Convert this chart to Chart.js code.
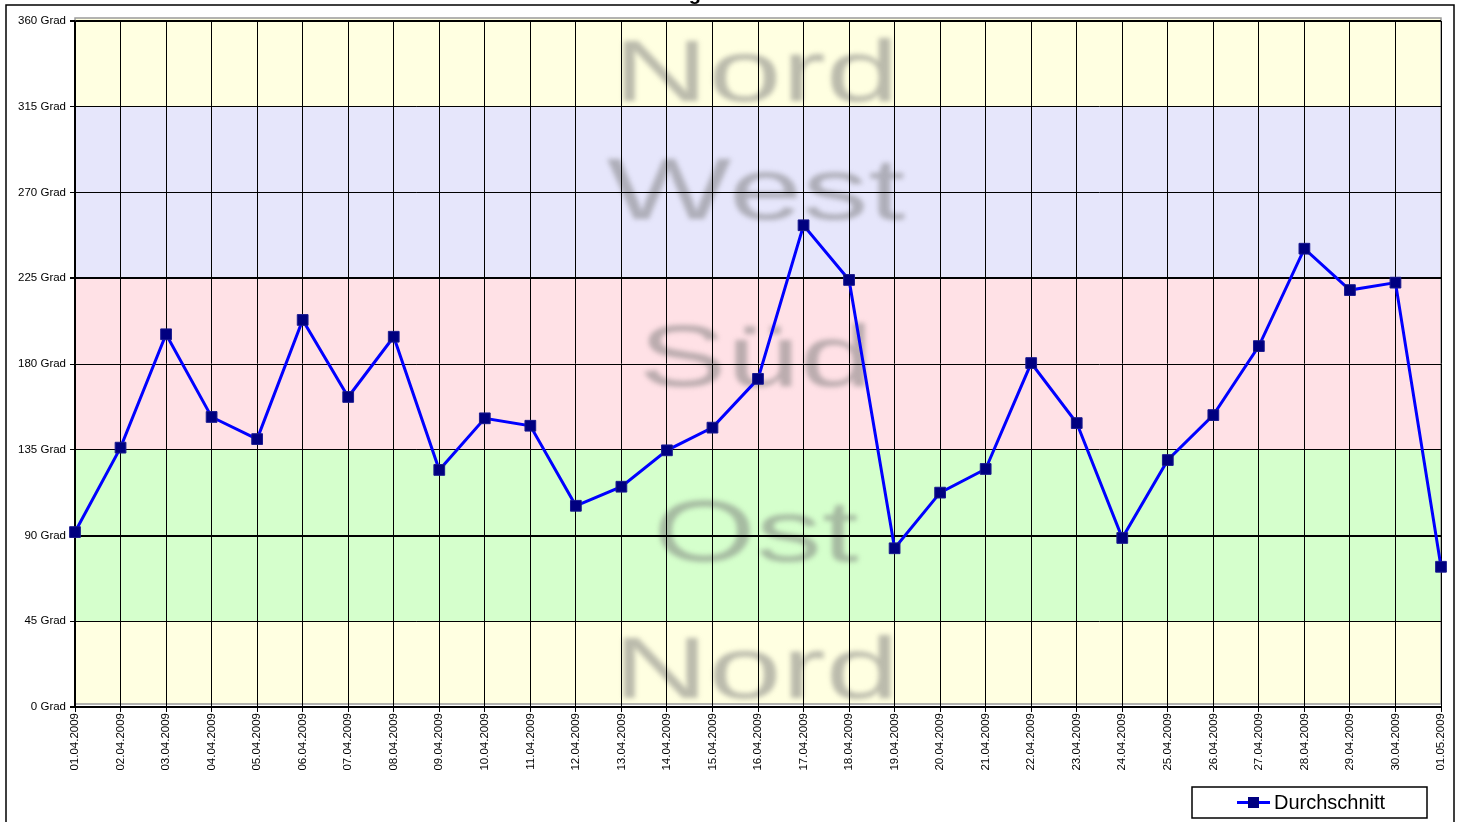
<!DOCTYPE html>
<html>
<head>
<meta charset="utf-8">
<script src="https://cdn.jsdelivr.net/npm/chart.js@4.4.1/dist/chart.umd.min.js"></script>
<style>
  html, body { margin: 0; padding: 0; background: #ffffff; }
  #wrap { width: 1462px; height: 822px; }
</style>
</head>
<body>
<div id="wrap"><canvas id="c" width="1462" height="822"></canvas></div>
<script>
const categories = ["01.04.2009","02.04.2009","03.04.2009","04.04.2009","05.04.2009","06.04.2009","07.04.2009","08.04.2009","09.04.2009","10.04.2009","11.04.2009","12.04.2009","13.04.2009","14.04.2009","15.04.2009","16.04.2009","17.04.2009","18.04.2009","19.04.2009","20.04.2009","21.04.2009","22.04.2009","23.04.2009","24.04.2009","25.04.2009","26.04.2009","27.04.2009","28.04.2009","29.04.2009","30.04.2009","01.05.2009"];
const durchschnitt = [91.8,136.1,195.6,152.2,140.6,203.1,162.7,194.3,124.4,151.5,147.6,105.6,115.6,134.7,146.6,172.2,252.8,224.1,83.3,112.5,124.9,180.5,149.0,88.7,129.6,153.2,189.4,240.5,218.8,222.7,73.6];
const seriesName = "Durchschnitt";
const titleText = "Windrichtung";
const yTicks = [0,45,90,135,180,225,270,315,360];
const tickSuffix = " Grad";
const bandEdges = [0,45,135,225,315,360];
const bandColors = ["#FFFFE1","#D5FFCC","#FFE1E6","#E6E6FB","#FFFFE1"];
const bandNames = ["Nord","Ost","Süd","West","Nord"];

const FONT = "'Liberation Sans', Arial, sans-serif";

const bgPlugin = {
  id: 'bg',
  beforeDraw(chart) {
    const ctx = chart.ctx;
    const a = chart.chartArea;
    const y = chart.scales.y;
    ctx.save();
    ctx.fillStyle = '#ffffff';
    ctx.fillRect(0, 0, chart.width, chart.height);
    // outer frame
    ctx.strokeStyle = '#000000';
    ctx.lineWidth = 1.5;
    ctx.strokeRect(6, 5, 1448, 840);
    // title (cut off at the top)
    ctx.fillStyle = '#000000';
    ctx.font = 'bold 20px ' + FONT;
    ctx.textAlign = 'right';
    ctx.textBaseline = 'alphabetic';
    ctx.fillText(titleText, 701, 0);
    // bands
    const imgTop = a.top - 3, imgBottom = a.bottom - 3;
    for (let i = 0; i < bandColors.length; i++) {
      let y0 = y.getPixelForValue(bandEdges[i]);
      let y1 = y.getPixelForValue(bandEdges[i + 1]);
      if (i === 0) y0 = imgBottom;
      if (i === bandColors.length - 1) y1 = imgTop;
      ctx.fillStyle = bandColors[i];
      ctx.fillRect(a.left, y1, a.right - a.left, y0 - y1);
    }
    ctx.strokeStyle = '#9a9a9a';
    ctx.lineWidth = 1.5;
    ctx.strokeRect(a.left, imgTop, a.right - a.left, imgBottom - imgTop);
    // watermark names
    const baseVals = [4.7, 76.6, 168.5, 256, 318];
    const cx = (a.left + a.right) / 2 - 2;
    ctx.font = '88px ' + FONT;
    ctx.textAlign = 'center';
    ctx.textBaseline = 'alphabetic';
    ctx.fillStyle = 'rgba(120,120,120,0.5)';
    ctx.filter = 'blur(2.5px)';
    for (let i = 0; i < bandNames.length; i++) {
      const by = y.getPixelForValue(baseVals[i]);
      ctx.save();
      ctx.translate(cx, by);
      ctx.scale(1.5, 1);
      ctx.fillText(bandNames[i], 0, 0);
      ctx.restore();
    }
    ctx.filter = 'none';
    ctx.restore();
  },
  afterDraw(chart) {
    const ctx = chart.ctx;
    const ds = chart.data.datasets[0];
    ctx.save();
    // legend box
    ctx.fillStyle = '#ffffff';
    ctx.fillRect(1192, 787, 235, 31);
    ctx.strokeStyle = '#000000';
    ctx.lineWidth = 1.5;
    ctx.strokeRect(1192, 787, 235, 31);
    ctx.strokeStyle = ds.borderColor;
    ctx.lineWidth = 3;
    ctx.beginPath();
    ctx.moveTo(1237, 802.5);
    ctx.lineTo(1270, 802.5);
    ctx.stroke();
    ctx.fillStyle = ds.pointBackgroundColor;
    ctx.fillRect(1248, 797, 11, 11);
    ctx.fillStyle = '#000000';
    ctx.font = '20px ' + FONT;
    ctx.textAlign = 'left';
    ctx.textBaseline = 'middle';
    ctx.fillText(ds.label, 1274, 803);
    ctx.restore();
  }
};

new Chart(document.getElementById('c'), {
  type: 'line',
  data: {
    labels: categories,
    datasets: [{
      label: seriesName,
      data: durchschnitt,
      borderColor: '#0000FF',
      borderWidth: 3,
      pointStyle: 'rect',
      pointRadius: 7.6,
      pointBackgroundColor: '#000080',
      pointBorderColor: '#1a1a90',
      pointBorderWidth: 1,
      tension: 0,
      fill: false
    }]
  },
  options: {
    responsive: false,
    animation: false,
    devicePixelRatio: 1,
    layout: { padding: { left: 0, right: 21, top: 21, bottom: 0 } },
    plugins: {
      legend: { display: false },
      title: { display: false },
      tooltip: { enabled: false }
    },
    scales: {
      x: {
        type: 'category',
        offset: false,
        afterFit(s) { s.height = 115; },
        ticks: {
          autoSkip: false,
          minRotation: 90,
          maxRotation: 90,
          padding: 1,
          color: '#000000',
          font: { family: FONT, size: 11.5 }
        },
        grid: { color: '#000000', lineWidth: 1, tickLength: 5, offset: false },
        border: { color: '#000000', width: 2 }
      },
      y: {
        min: 0,
        max: 360,
        afterFit(s) { s.width = 75; },
        afterBuildTicks(s) { s.ticks = yTicks.map(v => ({ value: v })); },
        ticks: {
          stepSize: 45,
          padding: 4,
          color: '#000000',
          font: { family: FONT, size: 11.5 },
          callback: v => v + tickSuffix
        },
        grid: {
          color: '#000000',
          lineWidth: c => ([0, 90, 225, 360].includes(c.tick && c.tick.value) ? 2 : 1),
          tickLength: 5
        },
        border: { color: '#000000', width: 1.5 }
      }
    }
  },
  plugins: [bgPlugin]
});
</script>
</body>
</html>
